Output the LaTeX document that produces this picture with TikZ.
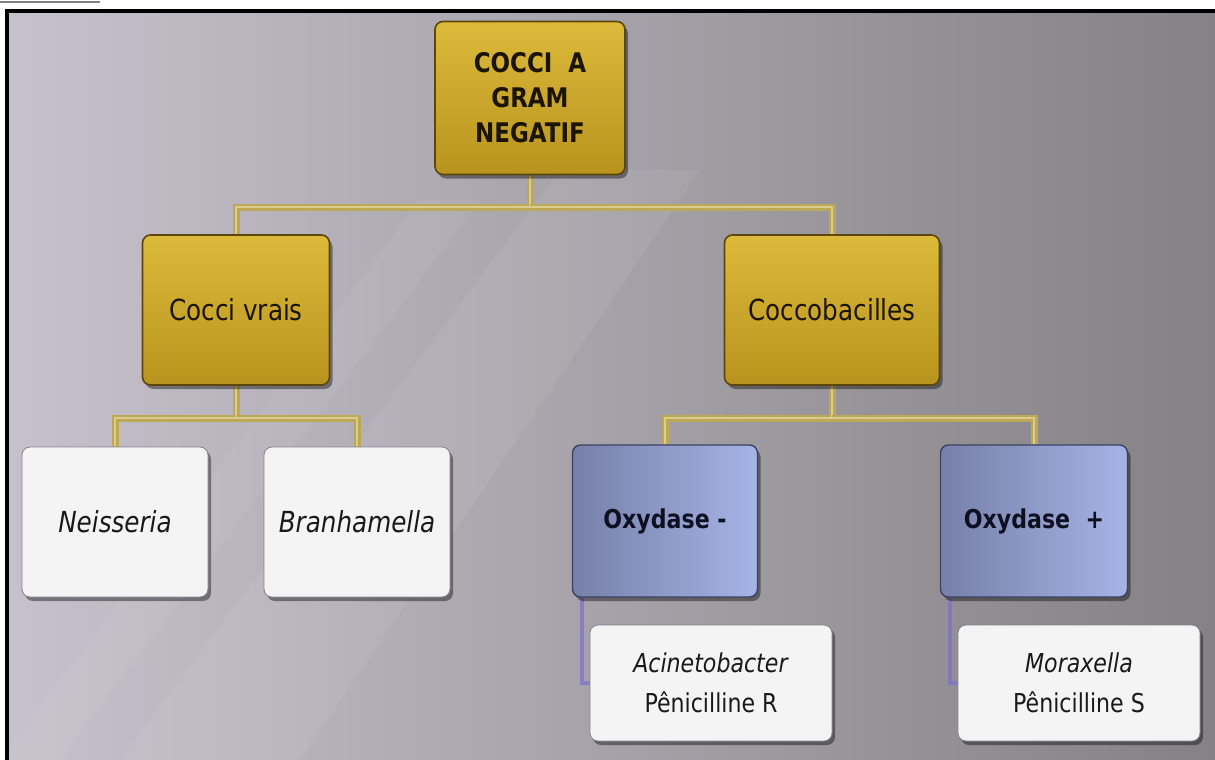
\documentclass[tikz,border=0pt]{standalone}
\usepackage{fontspec}
\setmainfont{DejaVu Sans}[FakeStretch=0.85]
\usetikzlibrary{shadows,calc}
\pgfdeclarelayer{bg}
\pgfdeclarelayer{edges}
\pgfsetlayers{bg,edges,main}
\definecolor{goldtop}{RGB}{220,186,58}
\definecolor{goldbot}{RGB}{184,148,30}
\definecolor{goldline}{RGB}{92,70,10}
\definecolor{goldtxt}{RGB}{28,20,2}
\definecolor{blueL}{RGB}{118,128,168}
\definecolor{blueR}{RGB}{166,180,230}
\definecolor{blueline}{RGB}{60,66,96}
\definecolor{bluetxt}{RGB}{14,16,34}
\definecolor{whitefill}{RGB}{244,244,245}
\definecolor{whiteline}{RGB}{130,130,142}
\definecolor{bgL}{RGB}{198,193,204}
\definecolor{bgM}{RGB}{162,159,165}
\definecolor{bgR}{RGB}{132,130,133}
\definecolor{connout}{RGB}{188,168,86}
\definecolor{connin}{RGB}{218,204,140}
\definecolor{pconn}{RGB}{126,116,200}
\tikzset{
  boxbase/.style={rounded corners=8pt, align=center, inner sep=4pt,
    drop shadow={shadow xshift=3pt, shadow yshift=-4pt, opacity=0.4, fill=black}},
  goldbox/.style={boxbase, draw=goldline, line width=1.6pt, top color=goldtop,
    bottom color=goldbot, text=goldtxt},
  bluebox/.style={boxbase, draw=blueline, line width=1.4pt, left color=blueL,
    right color=blueR, text=bluetxt, minimum width=185pt, minimum height=152pt,
    font=\bfseries\fontsize{26}{32}\selectfont},
  whitebox/.style={boxbase, draw=whiteline, line width=0.8pt, fill=whitefill,
    text=black!90, minimum width=186pt, minimum height=150pt,
    font=\itshape\fontsize{29}{34}\selectfont},
  subbox/.style={boxbase, draw=whiteline, line width=0.8pt, fill=whitefill,
    text=black!90, minimum width=242pt, minimum height=116pt,
    font=\fontsize{26}{40}\selectfont},
  goldconn/.style={draw=connout, line width=7pt,
    postaction={draw=connin, line width=2.4pt}},
  purpleconn/.style={draw=pconn, line width=4.5pt, opacity=0.8}
}
\begin{document}
\begin{tikzpicture}[x=1pt,y=-1pt]
\useasboundingbox (0,0) rectangle (1215,760);
\begin{pgfonlayer}{bg}
  \fill[white] (0,0) rectangle (1215,760);
  \shade[left color=bgL, middle color=bgM, right color=bgR] (7,11) rectangle (1215,760);
  \fill[white, opacity=0.06] (560,170) -- (700,170) -- (300,760) -- (120,760) -- cycle;
  \fill[white, opacity=0.05] (420,200) -- (480,200) -- (60,760) -- (0,760) -- cycle;
  \draw[black, line width=4pt] (7,760) -- (7,11) -- (1215,11);
  \draw[gray, line width=1.5pt] (0,2) -- (100,2);
\end{pgfonlayer}

\node[goldbox, minimum width=190pt, minimum height=153pt,
  font=\bfseries\fontsize{27}{35}\selectfont] (root) at (530,98)
  {COCCI~~A\\GRAM\\NEGATIF};
\node[goldbox, minimum width=187pt, minimum height=150pt,
  font=\fontsize{29}{34}\selectfont] (cv) at (236,310) {Cocci vrais};
\node[goldbox, minimum width=215pt, minimum height=150pt,
  font=\fontsize{29}{34}\selectfont] (cb) at (832,310) {Coccobacilles};

\node[whitebox] (nei) at (115,522) {Neisseria};
\node[whitebox] (bra) at (357,522) {Branhamella};

\node[bluebox] (oxm) at (665,521) {Oxydase -};
\node[bluebox, minimum width=187pt] (oxp) at (1034,521) {Oxydase~~+};

\node[subbox] (aci) at (711,683) {\textit{Acinetobacter}\\Pênicilline R};
\node[subbox] (mor) at (1079,683) {\textit{Moraxella}\\Pênicilline S};

\begin{pgfonlayer}{edges}
  \draw[goldconn] (root.south) -- (root.south |- 0,207) -| (cv.north);
  \draw[goldconn] (root.south |- 0,207) -| (cb.north);
  \draw[goldconn] (cv.south) -- (cv.south |- 0,418) -| (nei.north);
  \draw[goldconn] (cv.south |- 0,418) -| (bra.north);
  \draw[goldconn] (cb.south) -- (cb.south |- 0,418) -| (oxm.north);
  \draw[goldconn] (cb.south |- 0,418) -| (oxp.north);
  \draw[purpleconn] ($(oxm.south west)+(10,0)$) |- (aci.west);
  \draw[purpleconn] ($(oxp.south west)+(10,0)$) |- (mor.west);
\end{pgfonlayer}
\end{tikzpicture}
\end{document}
